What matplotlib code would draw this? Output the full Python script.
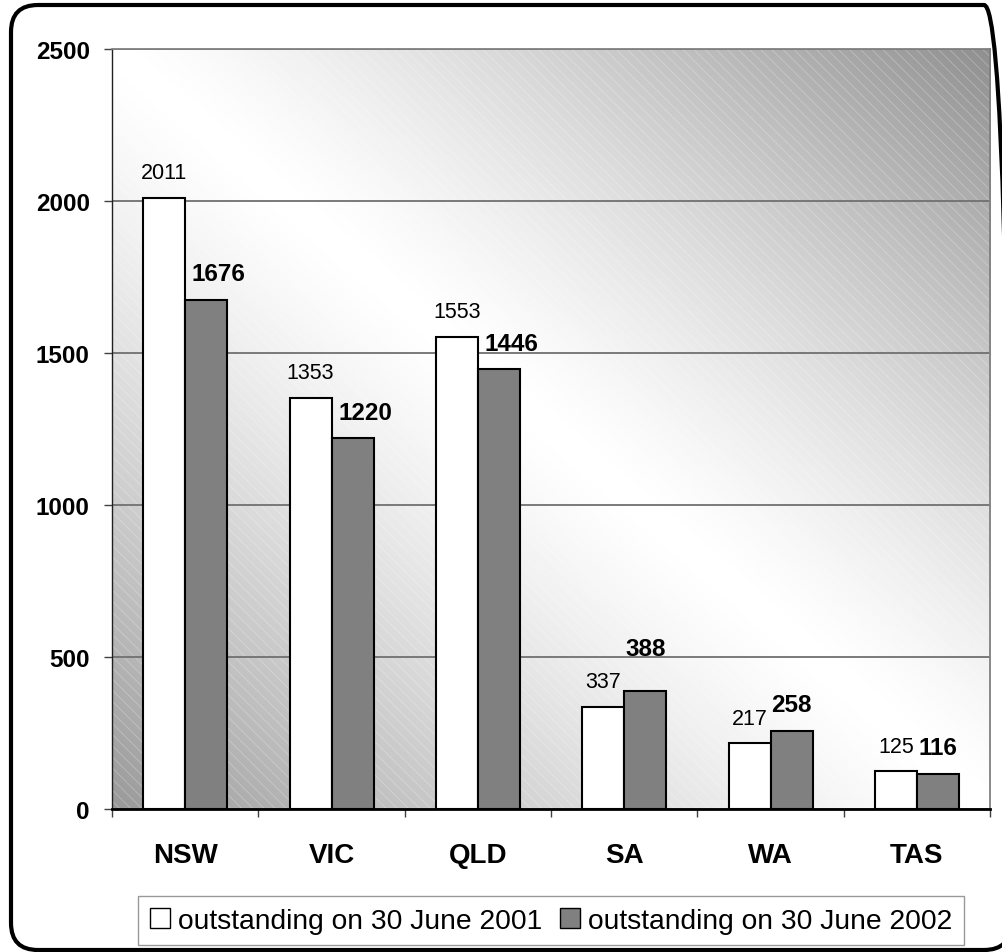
import numpy as np
import matplotlib.pyplot as plt
from matplotlib.patches import FancyBboxPatch, Rectangle
from matplotlib.ticker import FixedLocator

plt.rcParams['font.family'] = ['Liberation Sans', 'DejaVu Sans']
plt.rcParams['hatch.linewidth'] = 0.6

states = ['NSW', 'VIC', 'QLD', 'SA', 'WA', 'TAS']
out_2001 = [2011, 1353, 1553, 337, 217, 125]
out_2002 = [1676, 1220, 1446, 388, 258, 116]
series_names = ['outstanding on 30 June 2001', 'outstanding on 30 June 2002']
yticks = [0, 500, 1000, 1500, 2000, 2500]

# label nudges (points) where the labels were moved off the default spot
nudge_2002 = {0: (9, 0), 1: (9, 0), 2: (9, 0), 3: (0, 12)}

fig = plt.figure(figsize=(10.03, 9.53), dpi=100)
ax = fig.add_axes([0.1117, 0.15, 0.8755, 0.7975])

# background gradient: white band along the top-left / bottom-right diagonal
n = 400
gx, gy = np.meshgrid(np.linspace(0, 1, n), np.linspace(0, 1, n))
s = (gx + gy) / 2
d = np.abs(s - 0.5) * 2
val = np.where(s < 0.5, 1 - 0.40 * d ** 1.3, 1 - 0.44 * d ** 1.3)
ax.imshow(val, cmap='gray', vmin=0, vmax=1, origin='lower', extent=[0, 1, 0, 1],
          transform=ax.transAxes, aspect='auto', zorder=0, interpolation='bilinear')
ax.add_patch(Rectangle((0, 0), 1, 1, transform=ax.transAxes, facecolor='none',
                       edgecolor=(1, 1, 1, 0.28), linewidth=0, hatch='\\\\\\', zorder=0.5))

x = np.arange(len(states))
w = 0.287
b1 = ax.bar(x - w / 2, out_2001, w, color='white', edgecolor='black', linewidth=1.5,
            label=series_names[0], zorder=3)
b2 = ax.bar(x + w / 2, out_2002, w, color='#808080', edgecolor='black', linewidth=1.5,
            label=series_names[1], zorder=3)

for i, v in enumerate(out_2001):
    ax.annotate(str(v), (x[i] - w / 2, v), xytext=(0, 14), textcoords='offset points',
                ha='center', va='baseline', fontsize=15.5, zorder=4)
for i, v in enumerate(out_2002):
    dx, dy = nudge_2002.get(i, (0, 0))
    ax.annotate(str(v), (x[i] + w / 2, v), xytext=(dx, 14 + dy), textcoords='offset points',
                ha='center', va='baseline', fontsize=17.5, fontweight='bold', zorder=4)

ax.set_xlim(-0.5, len(states) - 0.5)
ax.set_ylim(0, 2500)
ax.set_yticks(yticks)
ax.set_yticklabels([str(t) for t in yticks], fontsize=17.5, fontweight='bold')
ax.yaxis.grid(True, color='#707070', linewidth=1.3, zorder=1)
ax.set_axisbelow(True)
ax.tick_params(axis='y', length=6, width=1, color='#404040', pad=10)

ax.set_xticks(x)
ax.set_xticklabels(states, fontsize=20, fontweight='bold')
ax.xaxis.set_minor_locator(FixedLocator(np.arange(-0.5, len(states), 1.0)))
ax.tick_params(axis='x', which='major', length=0, pad=24)
ax.tick_params(axis='x', which='minor', length=6, width=1, color='#404040')

ax.spines['left'].set_color('#202020')
ax.spines['left'].set_linewidth(1.0)
ax.spines['bottom'].set_color('black')
ax.spines['bottom'].set_linewidth(2.0)
ax.spines['bottom'].set_zorder(5)
ax.spines['top'].set_color('#808080')
ax.spines['top'].set_linewidth(1.3)
ax.spines['right'].set_color('#808080')
ax.spines['right'].set_linewidth(1.3)

leg = ax.legend(loc='upper center', bbox_to_anchor=(0.5, -0.115), ncol=2, frameon=True,
                fancybox=False, edgecolor='#808080', fontsize=20.3, handlelength=0.72,
                handleheight=0.72, handletextpad=0.3, columnspacing=0.6,
                borderpad=0.4, borderaxespad=0)
leg.get_frame().set_linewidth(1.0)
for h in leg.legend_handles:
    h.set_linewidth(1.0)

border = FancyBboxPatch((0.11, 0.02), 10.0, 9.45,
                        boxstyle='round,pad=0,rounding_size=0.27',
                        transform=fig.dpi_scale_trans, facecolor='none',
                        edgecolor='black', linewidth=3)
fig.add_artist(border)

fig.savefig('out.png', dpi=100)
